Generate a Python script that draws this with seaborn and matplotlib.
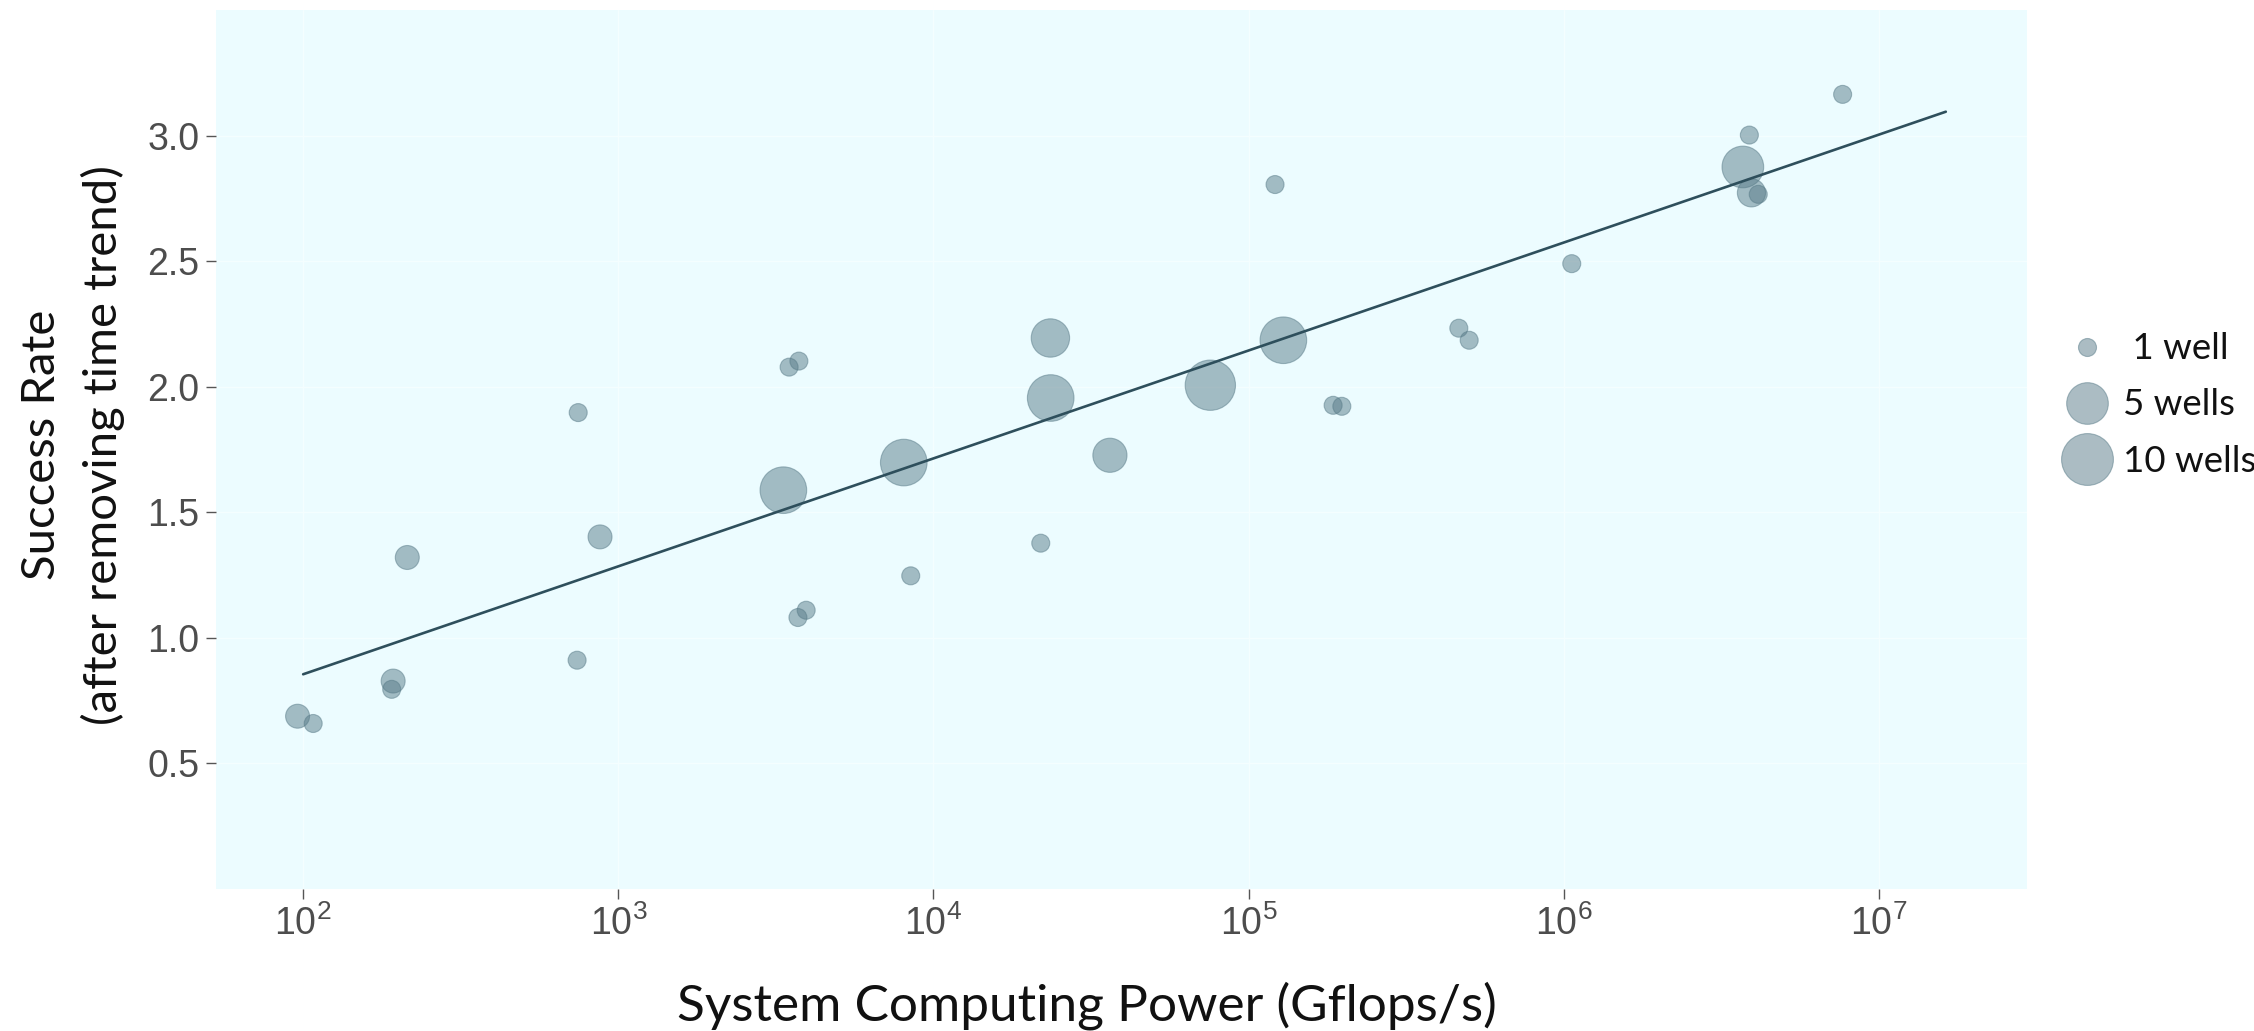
import numpy as np
import pandas as pd
import matplotlib
matplotlib.use("Agg")
import matplotlib.pyplot as plt
from matplotlib.lines import Line2D
from matplotlib.ticker import FuncFormatter, FixedLocator, NullLocator
import seaborn as sns

# ---------------- data ----------------
computing_power = [96, 107.6, 193, 191, 214, 740, 746, 875, 3340, 3483, 3741, 3715,
                   3945, 8050, 8470, 21900, 23500, 23550, 36300, 75600, 121300,
                   128900, 185400, 197600, 464500, 501000, 1.06e6, 3.70e6, 3.88e6,
                   3.94e6, 4.14e6, 7.67e6]
success_rate = [0.688, 0.659, 0.828, 0.795, 1.320, 0.911, 1.897, 1.402, 1.588, 2.078,
                2.102, 1.081, 1.110, 1.698, 1.247, 1.377, 2.194, 1.955, 1.727, 2.006,
                2.805, 2.185, 1.926, 1.922, 2.233, 2.185, 2.490, 2.875, 3.002, 2.772,
                2.766, 3.164]
wells = [1.5, 1, 1.5, 1, 1.5, 1, 1, 1.5, 7, 1, 1, 1, 1, 7, 1, 1, 4, 7, 3, 9, 1, 7,
         1, 1, 1, 1, 1, 5, 1, 2, 1, 1]

fit_x = [100, 1.63e7]
fit_y = [0.855, 3.095]

legend_wells = [1, 5, 10]
legend_labels = [" 1 well", "5 wells", "10 wells"]

x_ticks = [1e2, 1e3, 1e4, 1e5, 1e6, 1e7]
y_ticks = [0.5, 1.0, 1.5, 2.0, 2.5, 3.0]

df = pd.DataFrame({"power": computing_power, "rate": success_rate, "wells": wells})
fit_df = pd.DataFrame({"power": fit_x, "rate": fit_y})

# ---------------- style ----------------
DPI = 100
W, H = 2254, 1031
sns.set_theme(style="white")
plt.rcParams["font.family"] = ["Lato", "DejaVu Sans"]
plt.rcParams["mathtext.fontset"] = "custom"
plt.rcParams["mathtext.rm"] = "Liberation Sans"
plt.rcParams["mathtext.default"] = "regular"

POINT_COLOR = "#587b88"
LINE_COLOR = "#2e4f5c"
PANEL_BG = "#ecfcff"


def diam_px(n):
    return 18 + 14.7 * np.log(n)


def area_pt2(n):
    return (diam_px(n) * 72.0 / DPI) ** 2


fig = plt.figure(figsize=(W / DPI, H / DPI), dpi=DPI)
ax = fig.add_axes([216 / W, 1 - 889 / H, (2027 - 216) / W, (889 - 10) / H])
ax.set_facecolor(PANEL_BG)

size_map = {w: area_pt2(w) for w in sorted(set(wells))}
sns.scatterplot(data=df, x="power", y="rate", size="wells", sizes=size_map,
                color=POINT_COLOR, alpha=0.5, edgecolor=POINT_COLOR, linewidth=0.8,
                legend=False, ax=ax, zorder=3)
sns.lineplot(data=fit_df, x="power", y="rate", color=LINE_COLOR, linewidth=1.9,
             ax=ax, zorder=4)

ax.set_xscale("log")
ax.set_xlim(52.9, 2.95e7)
ax.set_ylim(0, 3.5)
ax.xaxis.set_major_locator(FixedLocator(x_ticks))
ax.xaxis.set_minor_locator(NullLocator())
ax.xaxis.set_major_formatter(FuncFormatter(lambda v, p: r"$10^{%d}$" % round(np.log10(v))))
ax.set_yticks(y_ticks)
ax.yaxis.set_major_formatter(FuncFormatter(lambda v, p: f"{v:.1f}"))

for s in ax.spines.values():
    s.set_visible(False)
ax.grid(True, color="#f4feff", linewidth=1.0, zorder=0)
ax.set_axisbelow(True)

ax.tick_params(axis="both", which="major", length=7, width=1.0, color="#555555",
               labelsize=27, labelcolor="#4d4d4d", pad=5, bottom=True, left=True)
for lab in ax.get_xticklabels() + ax.get_yticklabels():
    lab.set_fontfamily("Liberation Sans")

ax.set_xlabel("System Computing Power (Gflops/s)", fontsize=37, color="#111111",
              va="baseline")
ax.xaxis.set_label_coords((1087 - 216) / 1811, (889 - 1020) / 879)
ax.set_ylabel("Success Rate\n(after removing time trend)", fontsize=34, color="#111111",
              linespacing=1.5)
ax.yaxis.set_label_coords((125 - 216) / 1811, 0.505)

handles = [Line2D([], [], linestyle="none", marker="o", markersize=diam_px(w) * 72.0 / DPI,
                  markerfacecolor=POINT_COLOR, markeredgecolor=POINT_COLOR,
                  markeredgewidth=0.8, alpha=0.5)
           for w in legend_wells]
fig.legend(handles, legend_labels, loc="center left",
           bbox_to_anchor=(2047 / W, 1 - 405 / H), frameon=False,
           fontsize=26.4, labelcolor="#111111", handletextpad=0.28,
           labelspacing=0.63, borderaxespad=0, handlelength=1.4)

fig.savefig("out.png", dpi=DPI)
